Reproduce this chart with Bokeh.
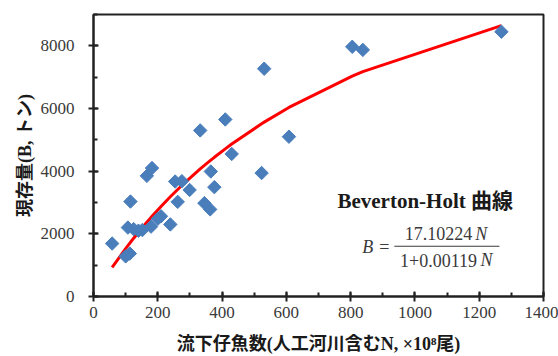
from bokeh.plotting import figure
from bokeh.models import Range1d, SingleIntervalTicker, Label, BoxAnnotation
from bokeh.embed import file_html
from bokeh.resources import INLINE

# ---- data ----
larvae = [58, 100, 113, 115, 107, 125, 140, 152, 179, 166, 182, 200, 210, 239,
          254, 275, 262, 299, 332, 345, 363, 365, 376, 410, 430, 523, 531, 608,
          805, 838, 1269]
stock = [1690, 1280, 1370, 3030, 2200, 2150, 2100, 2120, 2230, 3850, 4100, 2480,
         2560, 2300, 3670, 3680, 3020, 3400, 5300, 2980, 2780, 3990, 3490, 5650,
         4550, 3940, 7270, 5100, 7970, 7870, 8450]

# Beverton-Holt fit shown on the chart: B = a N / (1 + b N)
coef_a = 17.10224
coef_b = 0.00119
curve_n = sorted(larvae)
curve_b = [coef_a * n / (1 + coef_b * n) for n in curve_n]

x_label = "流下仔魚数(人工河川含むN, ×10⁸尾)"
y_label = "現存量(B, トン)"
title_text = "Beverton-Holt 曲線"

SERIF = "'Liberation Serif', 'Noto Sans CJK JP', serif"

p = figure(width=558, height=356, output_backend="svg", toolbar_location=None,
           x_range=Range1d(0, 1400), y_range=Range1d(0, 9000),
           min_border_left=93, min_border_right=15, min_border_top=14,
           min_border_bottom=60)

p.xgrid.visible = False
p.ygrid.visible = False
p.outline_line_color = "#222222"
p.outline_line_width = 2
p.background_fill_color = "white"

p.xaxis.ticker = SingleIntervalTicker(interval=200, num_minor_ticks=2)
p.yaxis.ticker = SingleIntervalTicker(interval=2000, num_minor_ticks=2)

for ax in (p.xaxis[0], p.yaxis[0]):
    ax.axis_line_color = "#222222"
    ax.axis_line_width = 2
    ax.major_tick_line_color = "#222222"
    ax.major_tick_line_width = 2
    ax.major_tick_in = 5
    ax.major_tick_out = 5
    ax.minor_tick_line_color = "#222222"
    ax.minor_tick_line_width = 2
    ax.minor_tick_in = 4
    ax.minor_tick_out = 0
    ax.major_label_text_font = SERIF
    ax.major_label_text_font_size = "17px"
    ax.major_label_text_color = "#3a3a3a"
    ax.axis_label_text_font = SERIF
    ax.axis_label_text_font_size = "18px"
    ax.axis_label_text_font_style = "bold"
    ax.axis_label_text_color = "#1a1a1a"

p.xaxis.axis_label = x_label
p.yaxis.axis_label = y_label
p.xaxis.major_label_standoff = 5
p.xaxis.axis_label_standoff = 13
p.yaxis.major_label_standoff = 14
p.yaxis.axis_label_standoff = 3

p.line(curve_n, curve_b, line_color="#ff0000", line_width=3)
p.scatter(larvae, stock, marker="square", angle=0.785398, size=9.5,
          fill_color="#4a7ebb", line_color="#4a7ebb")

# ---- annotation (Beverton-Holt formula) ----
p.add_layout(Label(x=759, y=3060, text=title_text, text_font=SERIF,
                   text_font_size="21px", text_font_style="bold",
                   text_color="#1a1a1a", text_baseline="middle",
                   text_align="left"))
fcol = "#3a3a3a"
p.add_layout(Label(x=836, y=1573, text="B", text_font=SERIF,
                   text_font_size="18px", text_font_style="italic",
                   text_color=fcol, text_baseline="middle", text_align="left"))
p.add_layout(Label(x=905, y=1573, text="=", text_font=SERIF,
                   text_font_size="18px", text_color=fcol,
                   text_baseline="middle", text_align="center"))
p.add_layout(Label(x=1178, y=2010, text="17.10224", text_font=SERIF,
                   text_font_size="18px", text_color=fcol,
                   text_baseline="middle", text_align="right"))
p.add_layout(Label(x=1188, y=2010, text="N", text_font=SERIF,
                   text_font_size="18px", text_font_style="italic",
                   text_color=fcol, text_baseline="middle", text_align="left"))
p.add_layout(Label(x=1193, y=1149, text="1+0.00119", text_font=SERIF,
                   text_font_size="18px", text_color=fcol,
                   text_baseline="middle", text_align="right"))
p.add_layout(Label(x=1204, y=1149, text="N", text_font=SERIF,
                   text_font_size="18px", text_font_style="italic",
                   text_color=fcol, text_baseline="middle", text_align="left"))
p.add_layout(BoxAnnotation(left=936, right=1263, bottom=1590, top=1620,
                           fill_color=fcol, fill_alpha=1.0, line_color=None))

open("out.html", "w").write(file_html(p, INLINE))
